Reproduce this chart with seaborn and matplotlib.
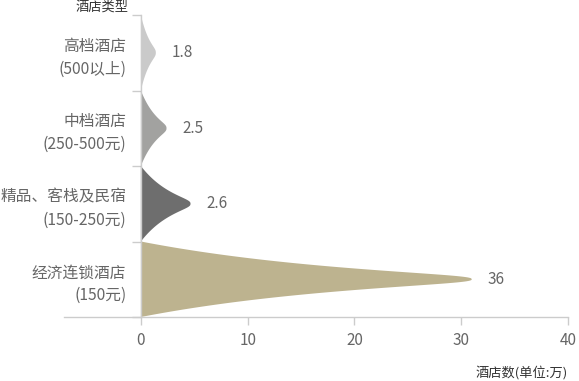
import numpy as np
import matplotlib
matplotlib.use("Agg")
import matplotlib.pyplot as plt
import seaborn as sns

# data
categories = ["高档酒店\n(500以上)", "中档酒店\n(250-500元)", "精品、客栈及民宿\n(150-250元)", "经济连锁酒店\n(150元)"]
values = [1.8, 2.5, 2.6, 36]          # numbers printed next to the shapes
lengths = [1.4, 2.4, 4.65, 31.0]      # how far each shape reaches on the axis
colors = ["#cacaca", "#a2a2a0", "#6e6e6e", "#bdb38f"]
xticks = [0, 10, 20, 30, 40]

sns.set_theme(style="white")
plt.rcParams["font.family"] = ["Noto Sans CJK SC", "DejaVu Sans"]

fig = plt.figure(figsize=(5.79, 3.81), dpi=100)
ax = fig.add_axes([64 / 579, 1 - 317 / 381, (568 - 64) / 579, (317 - 15) / 381])

# spiky shape profile (half height vs. relative length)
s = np.linspace(0, 1, 400)
r = (1 - s) ** 0.4 * np.exp(-1.3 * s)

for i, (L, c, v) in enumerate(zip(lengths, colors, values)):
    x = np.concatenate([s * L, (s * L)[::-1]])
    y = np.concatenate([i - 0.5 * r, (i + 0.5 * r)[::-1]])
    ax.fill(x, y, color=c, lw=0)
    ax.annotate(f"{v:g}", xy=(L, i), xytext=(11.5, 0), textcoords="offset points",
                ha="left", va="center", fontsize=11, color="#666666")

ax.set_xlim(-7.2, 40)
ax.set_ylim(3.5, -0.5)

sns.despine(ax=ax, top=True, right=True)
ax.spines["left"].set_position(("data", 0))
for sp in ["left", "bottom"]:
    ax.spines[sp].set_color("#cccccc")
    ax.spines[sp].set_linewidth(1)

ax.set_xticks(xticks)
ax.set_xticklabels([str(t) for t in xticks])
ax.tick_params(axis="x", direction="out", length=6, width=1, color="#cccccc",
               labelsize=11, labelcolor="#666666", pad=5, bottom=True)

ax.set_yticks(range(len(categories)))
ax.set_yticklabels(categories, linespacing=1.45)
ax.set_yticks(np.arange(-0.5, len(categories), 1), minor=True)
ax.tick_params(axis="y", which="major", length=0, pad=10.5, labelsize=11.3, labelcolor="#666666")
ax.tick_params(axis="y", which="minor", direction="out", length=6.5, width=1, color="#cccccc", left=True)

fig.text(102 / 579, 1 - 7 / 381, "酒店类型", ha="center", va="center", fontsize=9.5,
         color="#333333")
fig.text(568 / 579, 1 - 373 / 381, "酒店数(单位:万)", ha="right", va="center", fontsize=9.5,
         color="#333333")

fig.savefig("out.png", dpi=100)
